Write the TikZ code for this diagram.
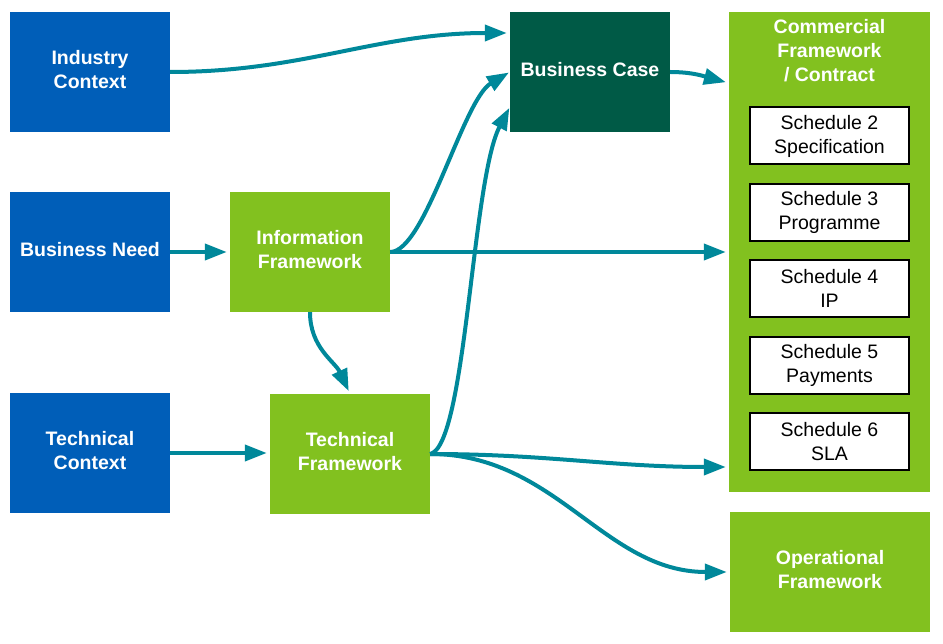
\documentclass[tikz,border=0pt]{standalone}
\usepackage{fontspec}
\setmainfont{Liberation Sans}
\usetikzlibrary{arrows.meta,positioning}
\definecolor{ctxblue}{HTML}{005EB8}
\definecolor{fwgreen}{HTML}{82C11F}
\definecolor{casegreen}{HTML}{005A46}
\definecolor{flowteal}{HTML}{00889A}
\tikzset{
  ctxbox/.style={fill=ctxblue, text=white, align=center, inner sep=0pt,
    minimum width=160pt, minimum height=120pt, text depth=4.5pt,
    font=\fontsize{19.5}{24}\selectfont\bfseries},
  fwbox/.style={ctxbox, fill=fwgreen},
  casebox/.style={ctxbox, fill=casegreen},
  schedbox/.style={draw=black, line width=2pt, fill=white, align=center,
    minimum width=159pt, minimum height=57pt, inner sep=0pt,
    font=\fontsize{19.5}{24}\selectfont},
  flow/.style={-{Triangle[length=22pt,width=16pt]}, line width=4pt,
    draw=flowteal, shorten >=3pt}
}

\begin{document}
\begin{tikzpicture}[x=1pt,y=-1pt]
  \useasboundingbox (0,0) rectangle (943,644);
  \node[ctxbox] (industry) at (90,72) {Industry\\Context};
  \node[ctxbox] (need) at (90,252) {Business Need};
  \node[ctxbox] (techctx) at (90,453) {Technical\\Context};
  \node[fwbox] (info) at (310,252) {Information\\Framework};
  \node[fwbox] (techfw) at (350,454) {Technical\\Framework};
  \node[casebox] (bcase) at (590,72) {Business Case};
  \node[fwbox, minimum width=201pt, minimum height=480pt] (comm) at (829.5,252) {};
  \node[fwbox, minimum width=0pt, minimum height=0pt, anchor=north] (commtitle)
    at (829.5,19) {Commercial\\Framework\\/ Contract};
  \foreach \n/\y/\t in {2/136/Specification, 3/212.5/Programme, 4/288.5/IP,
                        5/365.5/Payments, 6/441.5/SLA} {
    \node[schedbox] (sched\n) at (829.5,\y) {Schedule \n\\\t};
  }
  \node[fwbox, minimum width=200pt] (oper) at (830,572) {Operational\\Framework};

  \draw[flow] (industry.east) to[out=0,in=180] (bcase.west |- 0,33);
  \draw[flow, shorten >=1pt] (info.east) .. controls +(35,0) and +(-47,28) .. (bcase.west |- 0,72);
  \draw[flow, shorten >=1pt] (techfw.east) .. controls +(36,-8) and +(-38,73) .. (bcase.west |- 0,107);
  \draw[flow] (bcase.east) to[out=0,in=165] (comm.west |- 0,83);
  \draw[flow] (need) -- (info);
  \draw[flow] (info.east) -- (comm.west |- info.east);
  \draw[flow] (info.south) to[out=-90,in=115] (techfw.north);
  \draw[flow] (techctx.east) -- (techfw.west |- techctx.east);
  \draw[flow] (techfw.east) to[out=0,in=180] (comm.west |- 0,467);
  \draw[flow] (techfw.east) to[out=0,in=180] (oper.west);
\end{tikzpicture}
\end{document}
